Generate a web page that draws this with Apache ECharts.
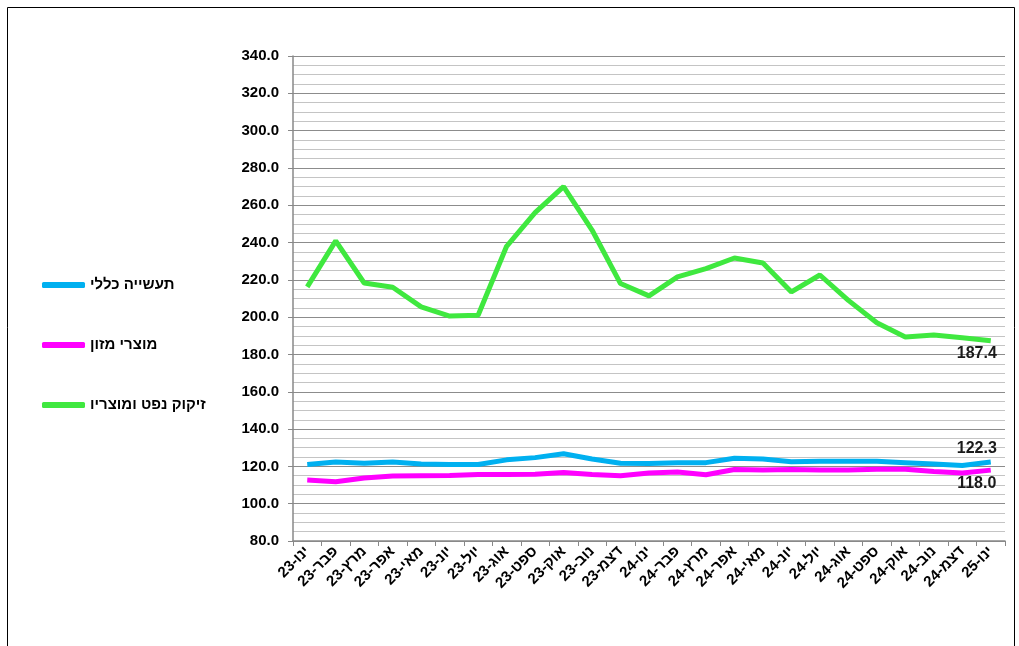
<!DOCTYPE html>
<html lang="he">
<head>
<meta charset="utf-8">
<script src="https://cdn.jsdelivr.net/npm/echarts@6/dist/echarts.min.js"></script>
<style>
html,body{margin:0;padding:0;background:#fff;}
#c{width:1019px;height:646px;}
</style>
</head>
<body>
<div id="c"></div>
<script>
const categories = ['ינו-23','פבר-23','מרץ-23','אפר-23','מאי-23','יונ-23','יול-23','אוג-23','ספט-23','אוק-23','נוב-23','דצמ-23',
  'ינו-24','פבר-24','מרץ-24','אפר-24','מאי-24','יונ-24','יול-24','אוג-24','ספט-24','אוק-24','נוב-24','דצמ-24','ינו-25'];
const seriesNames = ['תעשייה כללי','מוצרי מזון','זיקוק נפט ומוצריו'];
const generalIndustry = [121.0,122.3,121.7,122.3,121.3,121.0,121.0,123.5,124.7,126.8,124.0,121.7,121.6,122.0,122.0,124.4,124.0,122.5,122.7,122.7,122.7,122.0,121.3,120.5,122.3];
const foodProducts = [112.7,111.8,113.8,114.9,115.0,115.1,115.6,115.7,115.8,116.7,115.6,115.0,116.5,117.0,115.5,118.3,118.0,118.3,118.0,118.0,118.5,118.5,117.3,116.5,118.0];
const oilRefining = [216.2,240.9,218.3,216.0,205.5,200.6,201.0,238.0,256.0,270.0,246.7,218.0,211.4,221.6,226.0,231.7,229.0,213.5,222.6,209.0,197.0,189.4,190.4,189.0,187.4];
const yTicks = {min:80, max:340, interval:20};

const colors = ['#00B0F0','#FF00FF','#3FE83F'];
const labelPos = ['top','bottom','bottom'];
const FONT = 'Liberation Sans, Arial, sans-serif';

function build(values, idx){
  return values.map((v,i)=> i===values.length-1 ? {
    value:v,
    label:{show:true, position:labelPos[idx], distance:5, offset:[-14, 0],
      formatter:(p)=>Number(p.value).toFixed(1),
      fontFamily:FONT, fontWeight:'bold', fontSize:16, color:'#1a1a1a'}
  } : v);
}

function series(i, values, z){
  return {name:seriesNames[i], type:'line', data:build(values,i),
    symbol:'circle', symbolSize:0.01, showSymbol:true, z:z,
    lineStyle:{color:colors[i], width:5}, itemStyle:{color:colors[i]},
    label:{show:false}};
}

const chart = echarts.init(document.getElementById('c'), null, {renderer:'canvas'});
chart.setOption({
  animation:false,
  backgroundColor:'#fff',
  graphic:[{type:'rect', shape:{x:7.5,y:7.5,width:1007,height:700}, style:{fill:'none', stroke:'#000', lineWidth:1}}],
  legend:{
    orient:'vertical', left:37, top:271,
    itemWidth:43, itemHeight:6, itemGap:42,
    icon:'roundRect',
    data:seriesNames,
    textStyle:{fontFamily:FONT, fontWeight:'bold', fontSize:15, color:'#000', lineHeight:18}
  },
  grid:{left:293, right:14, top:56, bottom:105, containLabel:false},
  xAxis:{
    type:'category', data:categories, boundaryGap:true,
    axisLine:{lineStyle:{color:'#888', width:1.5}},
    axisTick:{show:true, length:5, lineStyle:{color:'#888'}},
    axisLabel:{rotate:45, interval:0, margin:8, fontFamily:FONT, fontWeight:'bold', fontSize:15, color:'#000'},
    splitLine:{show:false}
  },
  yAxis:{
    type:'value', min:yTicks.min, max:yTicks.max, interval:yTicks.interval,
    axisLine:{show:true, lineStyle:{color:'#888', width:1.5}},
    axisTick:{show:true, length:5, lineStyle:{color:'#888'}},
    axisLabel:{formatter:(v)=>v.toFixed(1), margin:14, fontFamily:FONT, fontWeight:'bold', fontSize:15, color:'#000'},
    splitLine:{show:true, lineStyle:{color:'#8c8c8c', width:1.2}},
    minorTick:{show:false, splitNumber:4},
    minorSplitLine:{show:true, lineStyle:{color:'#c4c4c4', width:1.2}}
  },
  series:[
    series(0, generalIndustry, 3),
    series(1, foodProducts, 2),
    series(2, oilRefining, 4)
  ]
});
</script>
</body>
</html>
